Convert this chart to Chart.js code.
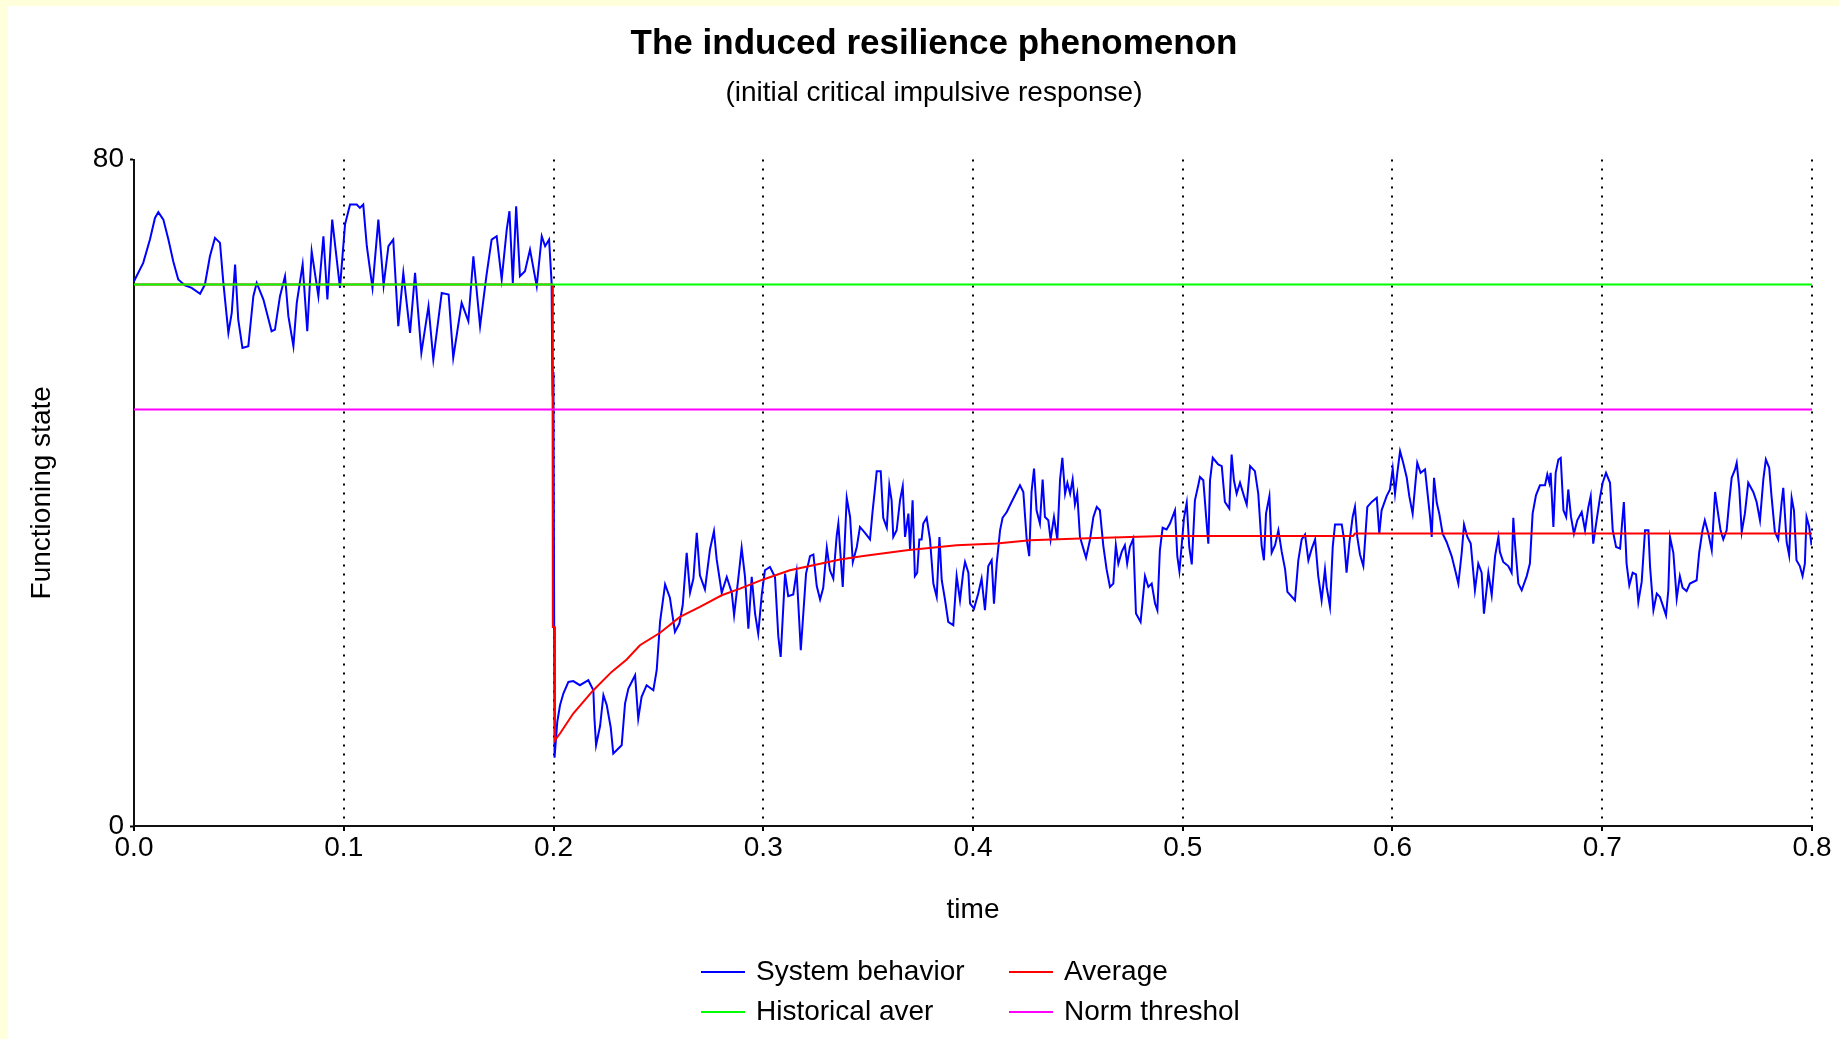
<!DOCTYPE html>
<html>
<head>
<meta charset="utf-8">
<title>The induced resilience phenomenon</title>
<script src="https://cdn.jsdelivr.net/npm/chart.js@4.4.1/dist/chart.umd.min.js"></script>
<style>
   html, body { margin: 0; padding: 0; background: #ffffdc; overflow: hidden; }
   #chart { position: absolute; left: 8px; top: 6px; background: #fff; }
</style>
</head>
<body>
<canvas id="chart" width="1831" height="1033"></canvas>
<script>
'use strict';

// ---- data ----
const chartTitle = 'The induced resilience phenomenon';
const chartSubtitle = '(initial critical impulsive response)';
const xTitle = 'time';
const yTitle = 'Functioning state';
const seriesNames = ['System behavior', 'Average', 'Historical aver', 'Norm threshol'];
const timeRange = [0, 0.8];
const stateRange = [0, 80];

// System behavior (blue)
const sysTime = [
   0.0000, 0.0044, 0.0076, 0.0100, 0.0116, 0.0140, 0.0164, 0.0187, 0.0211, 0.0243,
   0.0275, 0.0315, 0.0338, 0.0362, 0.0386, 0.0410, 0.0426, 0.0450, 0.0466, 0.0482,
   0.0497, 0.0517, 0.0545, 0.0569, 0.0585, 0.0617, 0.0656, 0.0672, 0.0696, 0.0720,
   0.0736, 0.0760, 0.0776, 0.0804, 0.0826, 0.0847, 0.0879, 0.0903, 0.0922, 0.0945,
   0.0982, 0.1006, 0.1030, 0.1062, 0.1077, 0.1093, 0.1110, 0.1137, 0.1165, 0.1190,
   0.1213, 0.1236, 0.1260, 0.1284, 0.1316, 0.1340, 0.1370, 0.1404, 0.1427, 0.1467,
   0.1500, 0.1522, 0.1562, 0.1594, 0.1618, 0.1650, 0.1680, 0.1705, 0.1729, 0.1753,
   0.1777, 0.1790, 0.1806, 0.1822, 0.1840, 0.1864, 0.1888, 0.1920, 0.1944, 0.1960,
   0.1979, 0.1991, 0.1994, 0.1996, 0.1998, 0.2000, 0.2005,
   0.2018, 0.2031, 0.2047, 0.2071, 0.2094, 0.2126, 0.2166, 0.2190, 0.2195, 0.2203,
   0.2222, 0.2238, 0.2254, 0.2273, 0.2285, 0.2325, 0.2341, 0.2357, 0.2389, 0.2404,
   0.2420, 0.2444, 0.2476, 0.2492, 0.2508, 0.2532, 0.2555, 0.2579, 0.2600, 0.2616,
   0.2635, 0.2651, 0.2667, 0.2683, 0.2698, 0.2722, 0.2746, 0.2765, 0.2778, 0.2802,
   0.2826, 0.2850, 0.2861, 0.2881, 0.2897, 0.2913, 0.2929, 0.2945, 0.2961, 0.2976,
   0.2993, 0.3008, 0.3032, 0.3056, 0.3072, 0.3083, 0.3104, 0.3119, 0.3143, 0.3159,
   0.3179, 0.3204, 0.3223, 0.3239, 0.3255, 0.3271, 0.3286, 0.3303, 0.3318, 0.3334,
   0.3350,
   0.3358, 0.3379, 0.3398, 0.3414, 0.3427, 0.3446, 0.3461, 0.3485, 0.3509, 0.3521,
   0.3533, 0.3541, 0.3560, 0.3572, 0.3589, 0.3601, 0.3612, 0.3620, 0.3636, 0.3652,
   0.3665, 0.3676, 0.3692, 0.3700, 0.3712, 0.3723, 0.3734, 0.3744, 0.3755, 0.3763,
   0.3779, 0.3795, 0.3811, 0.3827, 0.3840, 0.3851, 0.3867, 0.3882, 0.3906, 0.3922,
   0.3938, 0.3953, 0.3962, 0.3978, 0.3986, 0.4005, 0.4025, 0.4041, 0.4057, 0.4073,
   0.4089, 0.4100, 0.4113, 0.4129, 0.4141, 0.4161, 0.4184, 0.4224, 0.4240, 0.4256,
   0.4268, 0.4279, 0.4291, 0.4303, 0.4319, 0.4332, 0.4343, 0.4359, 0.4370, 0.4386,
   0.4402, 0.4415, 0.4426, 0.4439, 0.4450, 0.4463, 0.4475, 0.4486, 0.4497, 0.4510,
   0.4526, 0.4539, 0.4558, 0.4574, 0.4590, 0.4605, 0.4621, 0.4637, 0.4653, 0.4669,
   0.4681, 0.4693, 0.4709, 0.4724, 0.4735, 0.4748, 0.4764, 0.4777, 0.4799, 0.4820,
   0.4836, 0.4852, 0.4868, 0.4879, 0.4891, 0.4904, 0.4923, 0.4939,
   0.4963, 0.4974, 0.4984, 0.4995, 0.5006, 0.5019, 0.5031, 0.5043, 0.5058, 0.5074,
   0.5082, 0.5098, 0.5114, 0.5122, 0.5130, 0.5143, 0.5169, 0.5186, 0.5201, 0.5222,
   0.5233, 0.5244, 0.5257, 0.5273, 0.5292, 0.5305, 0.5321, 0.5344, 0.5360, 0.5376,
   0.5387, 0.5397, 0.5413, 0.5424, 0.5440, 0.5456, 0.5472, 0.5488, 0.5499, 0.5535,
   0.5551, 0.5567, 0.5583, 0.5599, 0.5615, 0.5631, 0.5646, 0.5662, 0.5678, 0.5686,
   0.5702, 0.5715, 0.5726, 0.5758, 0.5769, 0.5781, 0.5794, 0.5810, 0.5821, 0.5832,
   0.5845, 0.5861, 0.5880, 0.5901, 0.5925, 0.5937, 0.5948, 0.5972, 0.5988, 0.6001,
   0.6012, 0.6023, 0.6036, 0.6051, 0.6068, 0.6080, 0.6096, 0.6118, 0.6134, 0.6155,
   0.6163, 0.6179, 0.6187, 0.6198, 0.6211, 0.6223, 0.6239, 0.6258, 0.6282, 0.6298,
   0.6314, 0.6330, 0.6341, 0.6357, 0.6373, 0.6393, 0.6409, 0.6425, 0.6436, 0.6457,
   0.6473, 0.6489, 0.6505,
   0.6512, 0.6528, 0.6552, 0.6568, 0.6576, 0.6584, 0.6600, 0.6616, 0.6640, 0.6655,
   0.6668, 0.6684, 0.6703, 0.6727, 0.6738, 0.6748, 0.6754, 0.6767, 0.6778, 0.6791,
   0.6802, 0.6815, 0.6828, 0.6838, 0.6851, 0.6865, 0.6881, 0.6902, 0.6918, 0.6934,
   0.6945, 0.6957, 0.6973, 0.6989, 0.7002, 0.7018, 0.7037, 0.7050, 0.7066, 0.7085,
   0.7097, 0.7103, 0.7116, 0.7129, 0.7145, 0.7161, 0.7172, 0.7188, 0.7204, 0.7220,
   0.7228, 0.7244, 0.7260, 0.7275, 0.7291, 0.7304, 0.7315, 0.7323, 0.7339, 0.7355,
   0.7370, 0.7383, 0.7402, 0.7418, 0.7450, 0.7462, 0.7478, 0.7489, 0.7506, 0.7522,
   0.7538, 0.7550, 0.7564, 0.7577, 0.7593, 0.7606, 0.7617, 0.7633, 0.7641, 0.7653,
   0.7665, 0.7680, 0.7696, 0.7720, 0.7736, 0.7752, 0.7768, 0.7780, 0.7796, 0.7807,
   0.7823, 0.7839, 0.7855, 0.7863, 0.7879, 0.7891, 0.7903, 0.7914, 0.7926, 0.7942,
   0.7955, 0.7966, 0.7974, 0.7986, 0.7998
];
const sysValue = [
   65.4, 67.6, 70.4, 73.0, 73.7, 72.8, 70.4, 67.8, 65.6, 64.9,
   64.6, 63.9, 65.0, 68.4, 70.6, 70.0, 65.2, 59.2, 61.6, 67.4,
   60.8, 57.4, 57.6, 63.6, 65.2, 63.2, 59.4, 59.6, 63.6, 66.0,
   61.2, 57.6, 62.8, 67.4, 59.4, 69.0, 63.6, 70.8, 63.2, 72.8,
   64.6, 72.2, 74.6, 74.6, 74.2, 74.6, 69.6, 64.6, 72.8, 64.9,
   69.6, 70.4, 60.0, 66.4, 59.2, 66.4, 56.8, 62.4, 56.0, 64.0,
   63.8, 56.2, 62.8, 60.6, 68.4, 60.0, 66.0, 70.4, 70.8, 65.6,
   71.6, 73.8, 65.2, 74.4, 66.0, 66.6, 69.2, 64.8, 70.8, 69.6,
   70.4, 65.2, 54.8, 51.6, 54.5, 51.5, 8.2,
   12.5, 14.5, 15.9, 17.3, 17.4, 16.9, 17.5, 16.3, 13.0, 9.7,
   12.0, 15.7, 14.5, 11.8, 8.7, 9.7, 14.7, 16.5, 18.1, 12.9,
   15.5, 16.9, 16.3, 18.7, 24.5, 29.0, 27.4, 23.3, 24.3, 26.5,
   32.8, 28.0, 29.7, 35.2, 30.1, 28.4, 33.2, 35.4, 32.0, 28.0,
   29.9, 28.0, 25.3, 29.7, 33.4, 29.9, 23.7, 29.9, 25.5, 23.1,
   27.8, 30.7, 31.1, 29.9, 22.7, 20.3, 30.3, 27.6, 27.8, 30.5,
   21.1, 30.3, 32.4, 32.6, 28.8, 27.2, 28.6, 33.4, 30.7, 29.7,
   34.8,
   36.3, 28.7, 39.4, 37.1, 31.7, 33.5, 35.9, 35.2, 34.4, 37.7,
   40.6, 42.6, 42.6, 37.0, 35.8, 40.9, 39.1, 34.7, 35.5, 39.1,
   40.8, 34.7, 37.5, 33.1, 39.1, 30.0, 30.4, 34.4, 34.4, 36.3,
   37.0, 34.4, 29.1, 27.5, 34.7, 29.5, 27.1, 24.5, 24.1, 30.0,
   27.1, 30.4, 31.7, 30.4, 26.7, 26.1, 27.9, 29.7, 25.9, 31.2,
   31.9, 26.7, 31.5, 35.5, 37.0, 37.7, 38.9, 40.9, 40.1, 34.4,
   32.4, 40.1, 42.9, 37.9, 36.3, 41.6, 37.1, 36.7, 34.4, 37.1,
   34.4, 41.6, 44.2, 39.9, 41.2, 39.9, 41.6, 38.6, 39.9, 34.7,
   33.3, 32.2, 34.4, 37.1, 38.3, 37.9, 33.7, 30.8, 28.7, 29.1,
   33.7, 31.5, 32.9, 33.7, 31.5, 33.5, 34.5, 25.5, 24.5, 30.0,
   28.7, 29.1, 26.7, 25.9, 33.1, 35.8, 35.6, 36.3,
   37.9, 32.4, 30.6, 33.7, 37.0, 38.8, 33.5, 31.4, 39.1, 40.9,
   41.9, 41.5, 36.3, 33.9, 41.5, 44.2, 43.4, 43.2, 38.9, 38.1,
   44.6, 41.5, 39.9, 41.2, 39.6, 38.6, 43.2, 42.6, 39.9, 33.7,
   31.9, 37.5, 39.6, 32.8, 33.7, 35.5, 32.9, 30.8, 28.1, 27.1,
   31.9, 34.4, 35.0, 31.9, 33.3, 34.4, 30.0, 27.1, 30.8, 28.7,
   26.3, 33.5, 36.2, 36.2, 34.4, 30.4, 33.9, 37.1, 38.3, 34.7,
   32.6, 31.2, 38.3, 38.9, 39.4, 35.1, 37.9, 39.6, 40.4, 42.9,
   39.9, 42.4, 45.0, 43.6, 41.8, 39.6, 37.5, 43.6, 42.4, 42.8,
   40.9, 37.1, 34.7, 41.8, 38.8, 37.5, 35.1, 34.1, 32.4, 30.8,
   29.1, 32.8, 36.2, 34.7, 33.9, 28.3, 31.5, 30.4, 25.5, 30.4,
   27.7, 32.4, 34.7,
   32.9, 31.7, 31.2, 30.4, 37.0, 33.9, 29.1, 28.3, 30.0, 31.5,
   37.5, 39.7, 40.9, 40.9, 42.2, 41.2, 42.4, 35.9, 42.4, 44.0,
   44.2, 37.9, 37.1, 40.4, 37.1, 35.1, 36.7, 37.7, 35.5, 38.3,
   39.6, 33.9, 36.7, 39.4, 41.2, 42.4, 41.2, 35.5, 33.5, 33.3,
   37.1, 38.9, 31.5, 28.9, 30.4, 30.2, 26.9, 29.3, 35.5, 35.5,
   31.1, 25.9, 27.9, 27.5, 26.3, 25.3, 28.3, 34.7, 32.8, 27.3,
   30.0, 28.6, 28.2, 29.1, 29.5, 32.8, 35.5, 36.7, 35.1, 33.1,
   40.1, 37.9, 35.5, 34.4, 35.5, 39.1, 41.8, 42.8, 43.6, 40.6,
   35.3, 37.5, 41.2, 40.1, 38.9, 36.7, 41.6, 44.0, 43.0, 39.6,
   35.3, 34.4, 38.8, 40.6, 34.1, 32.5, 39.4, 37.9, 31.9, 31.2,
   30.0, 31.5, 37.1, 36.0, 33.7
];

// Average (red)
const avgTime = [
   0.0000, 0.1995, 0.1997, 0.2005, 0.2007, 0.2031, 0.2094, 0.2190, 0.2277, 0.2349,
   0.2412, 0.2508, 0.2603, 0.2698, 0.2802, 0.2889, 0.3000, 0.3127, 0.3255, 0.3366,
   0.3477, 0.3684, 0.3922, 0.4113, 0.4272, 0.4510, 0.4907, 0.5812, 0.5821, 0.8000
];
const avgValue = [
   65.0, 65.0, 23.9, 23.9, 10.3, 11.1, 13.5, 16.3, 18.5, 20.0,
   21.7, 23.2, 25.1, 26.3, 27.7, 28.5, 29.6, 30.7, 31.4, 32.0,
   32.4, 33.1, 33.7, 33.9, 34.3, 34.5, 34.8, 34.8, 35.1, 35.1
];

// Historical average (green) and norm threshold (magenta)
const histLevel = 65;
const normLevel = 50;

// ---- drawing ----
const fontFamily = '"Liberation Sans", Arial, sans-serif';
const legendCols = [693, 1001];
const legendRows = [966, 1006];

function getSeries(xValues, yValues) {
   const result = [];
   for (let i = 0; i < xValues.length; i++) {
      result.push({ x: xValues[i], y: yValues[i] });
   }
   return result;
}

function flatSeries(level) {
   return [{ x: timeRange[0], y: level }, { x: timeRange[1], y: level }];
}

// legend laid out in two fixed columns like the original
const gridLegend = {
   id: 'gridLegend',
   afterDraw(chart) {
      const ctx = chart.ctx;
      ctx.save();
      ctx.font = '28px ' + fontFamily;
      ctx.textBaseline = 'middle';
      ctx.textAlign = 'left';
      chart.data.datasets.forEach(function (ds, i) {
         const x = legendCols[i % 2];
         const y = legendRows[Math.floor(i / 2)];
         ctx.strokeStyle = ds.borderColor;
         ctx.lineWidth = 2;
         ctx.beginPath();
         ctx.moveTo(x, y);
         ctx.lineTo(x + 44, y);
         ctx.stroke();
         ctx.fillStyle = '#000';
         ctx.fillText(ds.label, x + 55, y);
      });
      ctx.restore();
   }
};

Chart.defaults.color = '#000';
Chart.defaults.font.family = fontFamily;

const lineDefaults = {
   borderWidth: 2,
   pointRadius: 0,
   pointHoverRadius: 0,
   tension: 0,
   fill: false
};

new Chart(document.getElementById('chart'), {
   type: 'line',
   data: {
      datasets: [
         Object.assign({
            label: seriesNames[0],
            data: getSeries(sysTime, sysValue),
            borderColor: '#0000ff',
            order: 4
         }, lineDefaults),
         Object.assign({
            label: seriesNames[1],
            data: getSeries(avgTime, avgValue),
            borderColor: '#ff0000',
            order: 3
         }, lineDefaults),
         Object.assign({
            label: seriesNames[2],
            data: flatSeries(histLevel),
            borderColor: '#00ff00',
            order: 2
         }, lineDefaults),
         Object.assign({
            label: seriesNames[3],
            data: flatSeries(normLevel),
            borderColor: '#ff00ff',
            order: 1
         }, lineDefaults)
      ]
   },
   options: {
      responsive: false,
      animation: false,
      events: [],
      layout: {
         // left padding keeps the titles centred where the original has them
         padding: { left: 48, right: 27, top: 0, bottom: 0 }
      },
      scales: {
         x: {
            type: 'linear',
            min: timeRange[0],
            max: timeRange[1],
            afterFit: function (scale) { scale.height = 213; },
            ticks: {
               stepSize: 0.1,
               maxRotation: 0,
               autoSkip: false,
               padding: 0,
               font: { size: 28 },
               callback: function (value) { return value.toFixed(1); }
            },
            grid: {
               color: '#000',
               lineWidth: 2,
               tickLength: 5,
               tickWidth: 2,
               tickBorderDash: []
            },
            border: {
               display: true,
               color: '#111',
               width: 2,
               dash: [2, 7]
            },
            title: {
               display: true,
               text: xTitle,
               font: { size: 28 },
               padding: { top: 0, bottom: 112 }
            }
         },
         y: {
            type: 'linear',
            min: stateRange[0],
            max: stateRange[1],
            afterFit: function (scale) { scale.width = 78; },
            ticks: {
               stepSize: 80,
               padding: 6,
               font: { size: 28 }
            },
            grid: {
               drawOnChartArea: false,
               color: '#000',
               tickLength: 4,
               tickWidth: 2
            },
            border: {
               display: true,
               color: '#111',
               width: 2
            },
            title: {
               display: true,
               text: yTitle,
               font: { size: 28 },
               padding: { top: -31, bottom: 0 }
            }
         }
      },
      plugins: {
         legend: { display: false },
         tooltip: { enabled: false },
         title: {
            display: true,
            text: chartTitle,
            color: '#000',
            font: { size: 35, weight: 'bold' },
            padding: { top: 17, bottom: 11 }
         },
         subtitle: {
            display: true,
            text: chartSubtitle,
            color: '#000',
            font: { size: 28 },
            padding: { top: 0, bottom: 50 }
         }
      }
   },
   plugins: [gridLegend]
});
</script>
</body>
</html>
